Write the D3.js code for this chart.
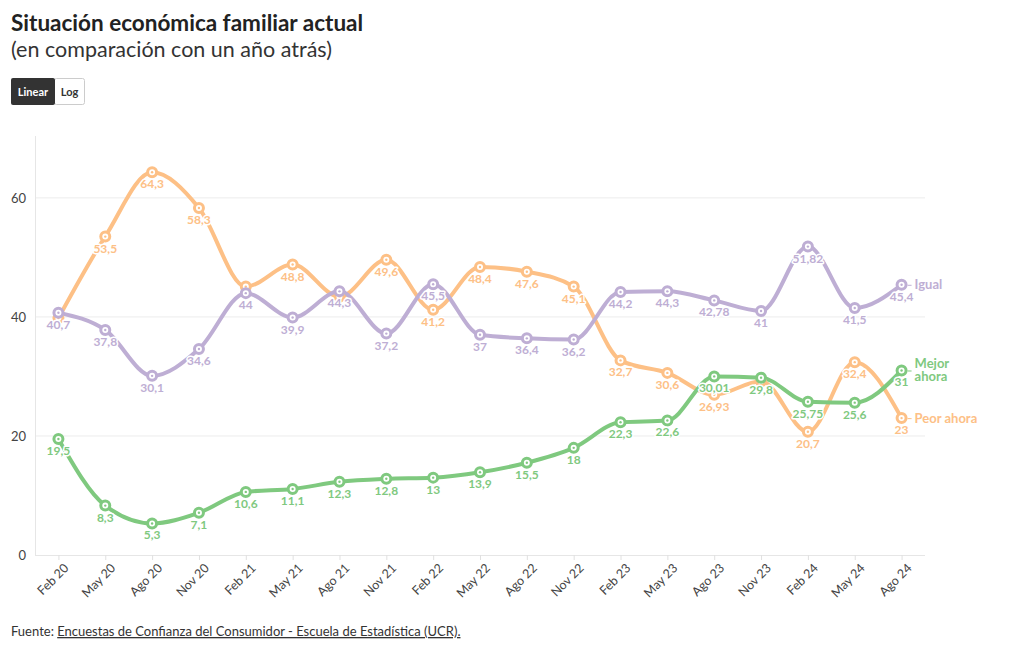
<!DOCTYPE html>
<html>
<head>
<meta charset="utf-8">
<script src="https://cdn.jsdelivr.net/npm/d3@7"></script>
<style>
  body { margin: 0; background: #fff; font-family: Lato, "Noto Sans", sans-serif; }
  svg text { font-family: Lato, "Noto Sans", sans-serif; }
</style>
</head>
<body>
<div id="chart"></div>
<script>
var fechas = ['Feb 20', 'May 20', 'Ago 20', 'Nov 20', 'Feb 21', 'May 21', 'Ago 21', 'Nov 21', 'Feb 22', 'May 22',
              'Ago 22', 'Nov 22', 'Feb 23', 'May 23', 'Ago 23', 'Nov 23', 'Feb 24', 'May 24', 'Ago 24'];
var mejor = [19.5, 8.3, 5.3, 7.1, 10.6, 11.1, 12.3, 12.8, 13, 13.9, 15.5, 18, 22.3, 22.6, 30.01, 29.8, 25.75, 25.6, 31];
var igual = [40.7, 37.8, 30.1, 34.6, 44, 39.9, 44.3, 37.2, 45.5, 37, 36.4, 36.2, 44.2, 44.3, 42.78, 41, 51.82, 41.5, 45.4];
var peor  = [39.8, 53.5, 64.3, 58.3, 45.1, 48.8, 43.4, 49.6, 41.2, 48.4, 47.6, 45.1, 32.7, 30.6, 26.93, 29.2, 20.7, 32.4, 23];
// etiquetas ocultas porque se enciman con otra serie
var ocultasPeor = [0, 4, 6, 15];
var yTicks = [0, 20, 40, 60];

var series = [
    {name: 'Peor ahora', lines: ['Peor ahora'], values: peor, color: '#fdc086', hide: ocultasPeor},
    {name: 'Igual', lines: ['Igual'], values: igual, color: '#beaed4', hide: []},
    {name: 'Mejor ahora', lines: ['Mejor', 'ahora'], values: mejor, color: '#7fc97f', hide: []}
];

var WIDTH = 1020, HEIGHT = 650;
var svg = d3.select('#chart').append('svg').attr('width', WIDTH).attr('height', HEIGHT);

// titulo
svg.append('text').attr('x', 11).attr('y', 31)
    .style('font-size', '22.5px').style('font-weight', 700).style('fill', '#222')
    .text('Situación económica familiar actual');
svg.append('text').attr('x', 11).attr('y', 57)
    .style('font-size', '21.5px').style('fill', '#333')
    .text('(en comparación con un año atrás)');

// botones Linear / Log
var btn = svg.append('g');
btn.append('rect').attr('x', 54.5).attr('y', 78.5).attr('width', 30).attr('height', 26).attr('rx', 2)
    .attr('fill', '#fff').attr('stroke', '#ccc');
btn.append('rect').attr('x', 11).attr('y', 78).attr('width', 44).attr('height', 27).attr('rx', 2)
    .attr('fill', '#333');
btn.append('text').attr('x', 33).attr('y', 96).attr('text-anchor', 'middle')
    .style('font-size', '11px').style('font-weight', 700).style('fill', '#fff').text('Linear');
btn.append('text').attr('x', 69.5).attr('y', 96).attr('text-anchor', 'middle')
    .style('font-size', '11px').style('font-weight', 700).style('fill', '#333').text('Log');

var x = d3.scalePoint().domain(fechas).range([35, 925]).padding(0.5);
var y = d3.scaleLinear().domain([0, 70.4]).range([555, 136]);

// rejilla
var grid = svg.append('g');
grid.selectAll('line.g').data(yTicks.slice(1)).enter().append('line')
    .attr('x1', 35).attr('x2', 925)
    .attr('y1', function(d){ return y(d); }).attr('y2', function(d){ return y(d); })
    .attr('stroke', '#ececec').attr('stroke-width', 1);
grid.append('line').attr('x1', 35.5).attr('x2', 35.5).attr('y1', 136).attr('y2', 555)
    .attr('stroke', '#e6e6e6');

var yAxis = svg.append('g').attr('transform', 'translate(35,0)')
    .call(d3.axisLeft(y).tickValues(yTicks).tickSize(0).tickPadding(9));
yAxis.select('.domain').remove();
yAxis.selectAll('text').style('font-size', '13px').style('fill', '#444');

var xAxis = svg.append('g').attr('transform', 'translate(0,555)')
    .call(d3.axisBottom(x).tickSize(5).tickPadding(6));
xAxis.select('.domain').attr('d', 'M35,0.5H925').attr('stroke', '#e6e6e6');
xAxis.selectAll('.tick line').attr('stroke', '#e0e0e0');
xAxis.selectAll('text')
    .style('font-size', '12.5px').style('fill', '#444')
    .attr('text-anchor', 'end')
    .attr('dx', '-0.2em').attr('dy', '0.5em')
    .attr('transform', 'rotate(-45)');

var line = d3.line()
    .x(function(d, i){ return x(fechas[i]); })
    .y(function(d){ return y(d); })
    .curve(d3.curveMonotoneX);

var linesG = svg.append('g');
var pointsG = svg.append('g');
var labelsG = svg.append('g');

series.forEach(function(s){
    linesG.append('path').datum(s.values)
        .attr('d', line).attr('fill', 'none')
        .attr('stroke', s.color).attr('stroke-width', 4)
        .attr('stroke-linejoin', 'round').attr('stroke-linecap', 'round');

    pointsG.selectAll(null).data(s.values).enter().append('circle')
        .attr('cx', function(d, i){ return x(fechas[i]); })
        .attr('cy', function(d){ return y(d); })
        .attr('r', 4.5).attr('fill', '#fff')
        .attr('stroke', s.color).attr('stroke-width', 3);
    pointsG.selectAll(null).data(s.values).enter().append('circle')
        .attr('cx', function(d, i){ return x(fechas[i]); })
        .attr('cy', function(d){ return y(d); })
        .attr('r', 1.2).attr('fill', s.color);
});

var fmt = function(v){ return String(v).replace('.', ','); };

series.forEach(function(s){
    labelsG.selectAll(null).data(s.values.map(function(v, i){ return {v: v, i: i}; })
            .filter(function(d){ return s.hide.indexOf(d.i) == -1; }))
        .enter().append('text')
        .attr('x', function(d){ return x(fechas[d.i]); })
        .attr('y', function(d){ return y(d.v) + 16; })
        .attr('text-anchor', 'middle')
        .style('font-size', '12px').style('font-weight', 700)
        .style('fill', s.color)
        .style('stroke', '#fff').style('stroke-width', 3).style('paint-order', 'stroke')
        .style('stroke-linejoin', 'round')
        .text(function(d){ return fmt(d.v); });

    // etiqueta de serie al final
    var last = s.values[s.values.length - 1];
    var lx = x(fechas[fechas.length - 1]);
    var ly = y(last);
    labelsG.append('line').attr('x1', lx + 6).attr('x2', lx + 10)
        .attr('y1', ly + 0.5).attr('y2', ly + 0.5).attr('stroke', s.color).attr('stroke-width', 1);
    var t = labelsG.append('text').attr('x', lx + 13)
        .attr('y', ly + 4.5 - (s.lines.length - 1) * 6.5)
        .style('font-size', '13px').style('font-weight', 700).style('fill', s.color)
        .style('stroke', '#fff').style('stroke-width', 3).style('paint-order', 'stroke');
    s.lines.forEach(function(l, k){
        t.append('tspan').attr('x', lx + 13).attr('dy', k ? 13 : 0).text(l);
    });
});

// fuente
var foot = svg.append('text').attr('x', 11).attr('y', 636)
    .style('font-size', '13px').style('fill', '#333');
foot.append('tspan').text('Fuente: ');
foot.append('tspan').style('text-decoration', 'underline')
    .text('Encuestas de Confianza del Consumidor - Escuela de Estadística (UCR).');
</script>
</body>
</html>
